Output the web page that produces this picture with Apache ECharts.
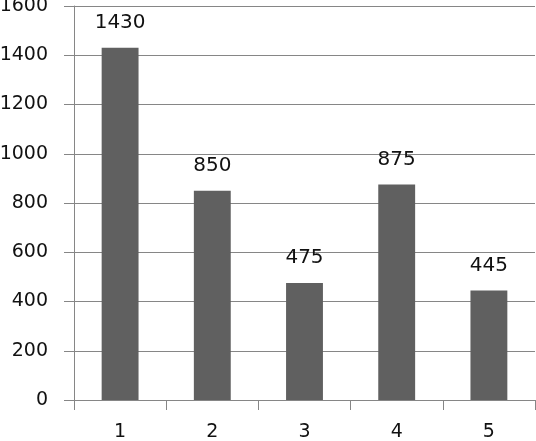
<!DOCTYPE html>
<html>
<head>
<meta charset="utf-8">
<script src="https://cdn.jsdelivr.net/npm/echarts@6/dist/echarts.min.js"></script>
<style>
  html, body { margin: 0; padding: 0; background: #fff; }
  #chart { width: 536px; height: 441px; }
</style>
</head>
<body>
<div id="chart"></div>
<script>
var categories = ['1', '2', '3', '4', '5'];
var values = [1430, 850, 475, 875, 445];

var chart = echarts.init(document.getElementById('chart'));
var option = {
    animation: false,
    grid: { left: 74, right: 1, top: 6, bottom: 41, containLabel: false, outerBoundsMode: 'none' },
    xAxis: {
        type: 'category',
        data: categories,
        axisLine: { lineStyle: { color: '#868686', width: 1 } },
        axisTick: { show: true, length: 10, lineStyle: { color: '#868686' } },
        axisLabel: { color: '#111', fontSize: 19, fontFamily: 'DejaVu Sans', margin: 23 }
    },
    yAxis: {
        type: 'value',
        min: 0,
        max: 1600,
        interval: 200,
        axisLine: { show: true, lineStyle: { color: '#868686', width: 1 } },
        axisTick: { show: true, length: 10, lineStyle: { color: '#868686' } },
        axisLabel: {
            color: '#111', fontSize: 19, fontFamily: 'DejaVu Sans', margin: 26,
            formatter: function (v) { return String(v); }
        },
        splitLine: { lineStyle: { color: '#868686', width: 1 } }
    },
    series: [{
        type: 'bar',
        data: values,
        barWidth: '40%',
        itemStyle: { color: '#606060' },
        label: {
            show: true,
            position: 'top',
            distance: 15,
            color: '#111',
            fontSize: 20,
            fontFamily: 'DejaVu Sans'
        }
    }]
};
chart.setOption(option);
window.addEventListener('resize', chart.resize);
</script>
</body>
</html>
